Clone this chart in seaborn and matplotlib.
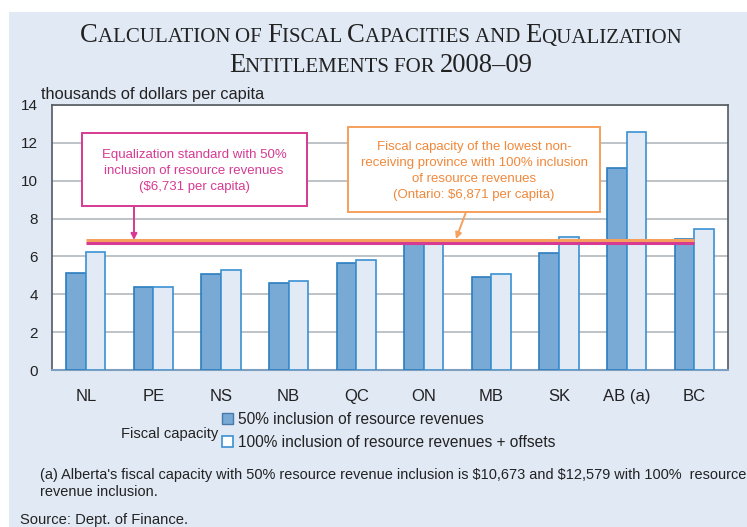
import numpy as np
import pandas as pd
import matplotlib
matplotlib.use("Agg")
import matplotlib.pyplot as plt
import seaborn as sns
from matplotlib.patches import Rectangle, Patch
from matplotlib.offsetbox import TextArea, HPacker, AnchoredOffsetbox

provinces = ["NL", "PE", "NS", "NB", "QC", "ON", "MB", "SK", "AB (a)", "BC"]
cap_50 = [5.14, 4.37, 5.05, 4.60, 5.65, 6.78, 4.93, 6.18, 10.673, 6.90]
cap_100 = [6.22, 4.38, 5.28, 4.68, 5.79, 6.871, 5.05, 7.04, 12.579, 7.43]
series_names = ["50% inclusion of resource revenues",
                "100% inclusion of resource revenues + offsets"]
standard_50 = 6.731
ontario_100 = 6.871
yticks = [0, 2, 4, 6, 8, 10, 12, 14]

BG = "#e1e9f5"
DARK = "#78aad5"
DARK_EDGE = "#2a7dc0"
LIGHT = "#e2eaf5"
LIGHT_EDGE = "#3a90d2"
PINK = "#d63a93"
ORANGE = "#f5a05c"
ORANGE_TXT = "#f0883a"
TXT = "#222222"

sns.set_theme(style="white")
plt.rcParams["font.family"] = ["Liberation Sans", "DejaVu Sans"]

W, H = 747, 527
fig = plt.figure(figsize=(W / 100, H / 100), dpi=100)
fig.patch.set_facecolor("white")
fig.add_artist(Rectangle((9 / W, 0), 1 - 9 / W, 1 - 12 / H, transform=fig.transFigure,
                         facecolor=BG, edgecolor="none", zorder=0))

ax = fig.add_axes([52 / W, 1 - 370 / H, (728 - 52) / W, (370 - 105) / H])
ax.set_facecolor("white")

df = pd.DataFrame({
    "prov": provinces * 2,
    "val": cap_50 + cap_100,
    "series": [series_names[0]] * len(provinces) + [series_names[1]] * len(provinces),
})
sns.barplot(data=df, x="prov", y="val", hue="series", hue_order=series_names,
            palette=[DARK, LIGHT], saturation=1, width=0.58, gap=0, legend=False,
            ax=ax, zorder=3)
n = len(provinces)
for i, bar in enumerate(ax.patches[:2 * n]):
    bar.set_edgecolor(DARK_EDGE if i < n else LIGHT_EDGE)
    bar.set_linewidth(1.2)

ax.set_xlim(-0.5, n - 0.5)
ax.set_ylim(0, 14)
ax.set_yticks(yticks)
ax.yaxis.grid(True, color="#b9bec4", linewidth=1.3, zorder=0)
ax.set_axisbelow(True)
ax.set_xlabel("")
ax.set_ylabel("")

ax.hlines(standard_50, 0, n - 1, color=PINK, linewidth=2.2, zorder=5)
ax.hlines(ontario_100, 0, n - 1, color=ORANGE, linewidth=2.2, zorder=5)

for s in ["left", "top", "right"]:
    ax.spines[s].set_color("#555a60")
    ax.spines[s].set_linewidth(1.2)
ax.spines["bottom"].set_color("#7f9fc0")
ax.spines["bottom"].set_linewidth(1.5)

ax.tick_params(axis="x", which="major", length=0, pad=14, labelsize=12, colors=TXT)
ax.set_xticks(np.arange(-0.5, n, 1.0), minor=True)
ax.tick_params(axis="x", which="minor", length=4, width=1, color="#7f9fc0", direction="out")
ax.tick_params(axis="y", which="major", length=4, width=1, color="#555a60",
               direction="out", labelsize=11, labelcolor=TXT, pad=6)

# annotation boxes
def px2x(px):
    return (px - 52) / 67.6 - 0.5

def py2y(py):
    return (370 - py) / 18.93

ax.add_patch(Rectangle((px2x(82), py2y(206)), px2x(307) - px2x(82), py2y(133) - py2y(206),
                       facecolor="white", edgecolor=PINK, linewidth=1.4, zorder=6))
ax.text(px2x(194), py2y(171),
        "Equalization standard with 50%\ninclusion of resource revenues\n(\\$6,731 per capita)",
        ha="center", va="center", fontsize=9.5, color=PINK, linespacing=1.42, zorder=7)
ax.annotate("", xy=(px2x(134), py2y(240)), xytext=(px2x(134), py2y(206)),
            arrowprops=dict(arrowstyle="-|>", color=PINK, lw=1.4, mutation_scale=9,
                            shrinkA=0, shrinkB=0), zorder=7)

ax.add_patch(Rectangle((px2x(348), py2y(212)), px2x(600) - px2x(348), py2y(127) - py2y(212),
                       facecolor="white", edgecolor=ORANGE, linewidth=1.4, zorder=6))
ax.text(px2x(474), py2y(171),
        "Fiscal capacity of the lowest non-\nreceiving province with 100% inclusion\nof resource revenues\n(Ontario: \\$6,871 per capita)",
        ha="center", va="center", fontsize=9.5, color=ORANGE_TXT, linespacing=1.42, zorder=7)
ax.annotate("", xy=(px2x(456), py2y(239)), xytext=(px2x(466), py2y(212)),
            arrowprops=dict(arrowstyle="-|>", color=ORANGE, lw=1.4, mutation_scale=9,
                            shrinkA=0, shrinkB=0), zorder=7)

# title in small caps
def small_caps_line(words, big=19.2, small=15.0):
    parts = []
    for wi, w in enumerate(words):
        txt = w if wi == len(words) - 1 else w + " "
        props_big = dict(fontsize=big, family="Liberation Serif", color=TXT)
        props_small = dict(fontsize=small, family="Liberation Serif", color=TXT)
        if w[0].isupper():
            parts.append(TextArea(w[0], textprops=props_big))
            if txt[1:]:
                parts.append(TextArea(txt[1:].upper(), textprops=props_small))
        elif w[0].islower():
            parts.append(TextArea(txt.upper(), textprops=props_small))
        else:
            parts.append(TextArea(txt, textprops=props_big))
    return HPacker(children=parts, align="baseline", pad=0, sep=0)

line1 = small_caps_line(["Calculation", "of", "Fiscal", "Capacities", "and", "Equalization"])
line2 = small_caps_line(["Entitlements", "for", "2008–09"])
for line, yc in [(line1, 36), (line2, 66)]:
    ab = AnchoredOffsetbox(loc="center", child=line, frameon=False, pad=0, borderpad=0,
                           bbox_to_anchor=(381 / W, 1 - yc / H), bbox_transform=fig.transFigure)
    fig.add_artist(ab)

fig.text(41 / W, 1 - 95 / H, "thousands of dollars per capita", fontsize=11.8,
         ha="left", va="center", color=TXT)

# legend
handles = [Patch(facecolor=DARK, edgecolor="#4a78a8", linewidth=1),
           Patch(facecolor="white", edgecolor=LIGHT_EDGE, linewidth=1.2)]
fig.legend(handles, series_names, loc="upper left", bbox_to_anchor=(222 / W, 1 - 412 / H),
           frameon=False, handlelength=0.7, handleheight=0.7, handletextpad=0.3,
           labelspacing=0.5, borderpad=0, borderaxespad=0, fontsize=11.2,
           labelcolor=TXT)
fig.text(121 / W, 1 - 434 / H, "Fiscal capacity", fontsize=10.6, ha="left", va="center",
         color=TXT)

fig.text(40 / W, 1 - 475 / H,
         "(a) Alberta's fiscal capacity with 50% resource revenue inclusion is \\$10,673 and \\$12,579 with 100%  resource",
         fontsize=10.45, ha="left", va="center", color=TXT)
fig.text(40 / W, 1 - 492 / H, "revenue inclusion.", fontsize=10.45, ha="left", va="center",
         color=TXT)
fig.text(20 / W, 1 - 520 / H, "Source: Dept. of Finance.", fontsize=10.6, ha="left",
         va="center", color=TXT)

fig.savefig("out.png", dpi=100)
